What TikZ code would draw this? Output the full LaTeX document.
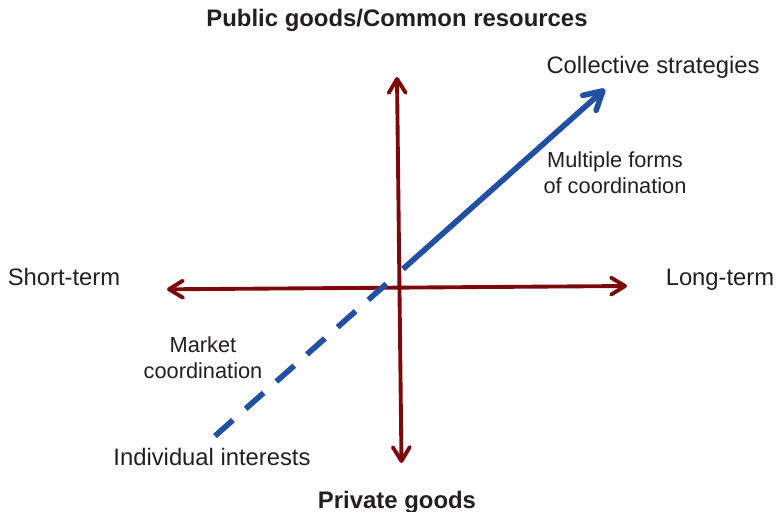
\documentclass[tikz,border=0pt]{standalone}
\usepackage{fontspec}
\setmainfont{Liberation Sans}
\usepackage{xcolor}
\usepackage{tikz}
\usetikzlibrary{arrows.meta}
\definecolor{axisred}{RGB}{125,8,10}
\definecolor{stratblue}{RGB}{33,80,163}
\definecolor{textgray}{RGB}{35,31,32}

\begin{document}
\begin{tikzpicture}[
        lbl/.style={font=\fontsize{6.77}{7.7}\selectfont, text=textgray, inner sep=0pt},
        smalllbl/.style={lbl, align=center, font=\fontsize{6.2}{7.45}\selectfont},
        heading/.style={lbl, font=\fontsize{6.8}{7.7}\selectfont\bfseries},
        axis/.style={{Straight Barb[length=1.4mm, width=1.7mm, line join=round, line cap=round]}-{Straight Barb[length=1.4mm, width=1.7mm, line join=round, line cap=round]}, axisred, line width=1.1pt},
        dashedge/.style={stratblue, line width=1.6pt, dash pattern=on 2.4mm off 1.7mm},
        solidedge/.style={-{Straight Barb[length=1.8mm, width=2mm, line join=round, line cap=round]}, stratblue, line width=1.6pt}
    ]

    \useasboundingbox (-3.99,-2.23) rectangle (3.78,2.88);

    % axis tips
    \coordinate (ntip) at (-0.02,2.11);
    \coordinate (stip) at (0.025,-1.75);
    \coordinate (wtip) at (-2.32,-0.013);
    \coordinate (etip) at (2.28,0.02);

    % strategy line
    \coordinate (bstart) at (-1.84,-1.48);
    \coordinate (bdash) at (-0.10,0.065);
    \coordinate (bsolid) at (0.04,0.19);
    \coordinate (btip) at (2.06,1.99);

    % texts
    \node[heading, anchor=base] (public) at (-0.02,2.61) {Public goods/Common resources};
    \node[heading, anchor=base] (private) at (-0.02,-2.20) {Private goods};
    \node[lbl, anchor=base] (shortterm) at (-3.35,0.03) {Short-term};
    \node[lbl, anchor=base] (longterm) at (3.21,0.03) {Long-term};
    \node[lbl, anchor=base] (collective) at (2.54,2.15) {Collective strategies};
    \node[smalllbl] (multiple) at (2.16,1.15) {Multiple forms\\of coordination};
    \node[smalllbl] (market) at (-1.96,-0.695) {Market\\coordination};
    \node[lbl, anchor=base] (individual) at (-1.87,-1.77) {Individual interests};

    % axes
    \draw[axis] (stip) -- (ntip);
    \draw[axis] (wtip) -- (etip);

    % from individual to collective
    \draw[dashedge] (bstart) -- (bdash);
    \draw[solidedge] (bsolid) -- (btip);

\end{tikzpicture}
\end{document}
